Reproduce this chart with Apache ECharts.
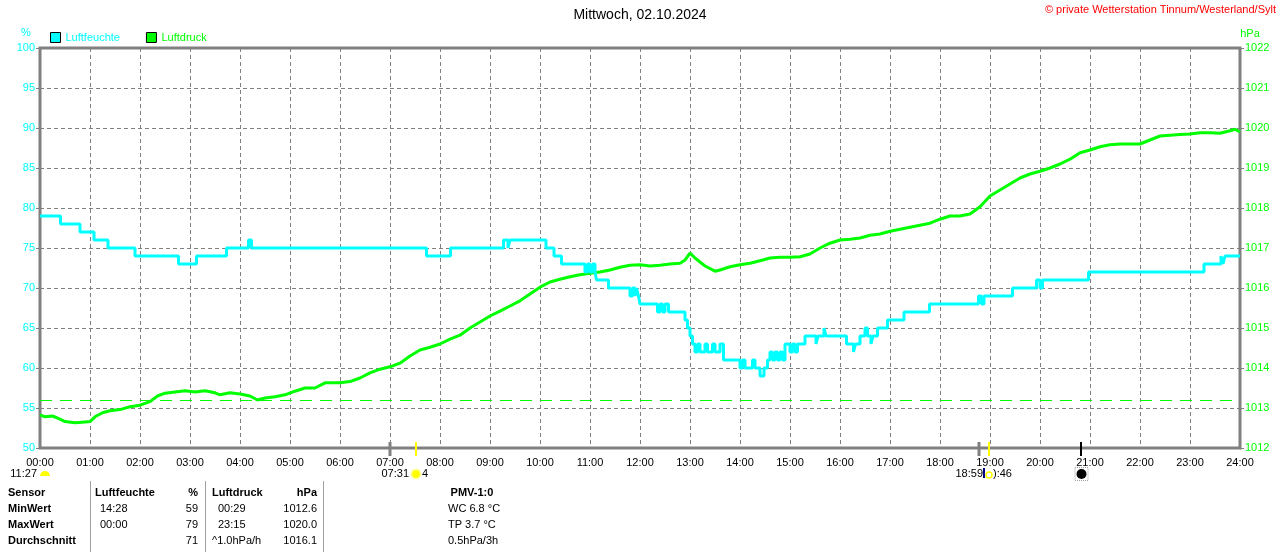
<!DOCTYPE html>
<html lang="de">
<head>
<meta charset="UTF-8">
<title>Luftfeuchte / Luftdruck</title>
<script src="https://cdn.jsdelivr.net/npm/echarts@6/dist/echarts.min.js"></script>
<style>
    html, body { margin: 0; padding: 0; background: #fff; }
    #main { width: 1280px; height: 552px; }
</style>
</head>
<body>
<div id="main"></div>
<script>
    // tick labels of the time axis
    var hourLabels = ['00:00', '01:00', '02:00', '03:00', '04:00', '05:00', '06:00', '07:00', '08:00',
        '09:00', '10:00', '11:00', '12:00', '13:00', '14:00', '15:00', '16:00', '17:00', '18:00',
        '19:00', '20:00', '21:00', '22:00', '23:00', '24:00'];

    // Luftfeuchte (%), value holds from this hour until the next entry
    var humHours = [0, 0.41, 0.8, 1.08, 1.36, 1.9, 2.77, 3.13, 3.73, 4.17, 4.23, 7.73, 8.21, 9.27, 9.36, 9.4,
        10.12, 10.28, 10.43, 10.9, 10.95, 11.0, 11.05, 11.1, 11.13, 11.37, 11.8, 11.85, 11.9, 11.93, 11.97,
        12.0, 12.35, 12.4, 12.45, 12.5, 12.57, 12.9, 12.95, 13.0, 13.05, 13.1, 13.15, 13.2, 13.3, 13.35,
        13.45, 13.5, 13.6, 13.67, 14.0, 14.05, 14.1, 14.25, 14.3, 14.4, 14.48, 14.55, 14.6, 14.65, 14.7,
        14.75, 14.8, 14.85, 14.9, 15.0, 15.05, 15.1, 15.15, 15.3, 15.52, 15.56, 15.68, 15.72, 16.13, 16.27,
        16.31, 16.4, 16.5, 16.55, 16.62, 16.66, 16.75, 16.95, 17.28, 17.79, 18.77, 18.83, 18.88, 19.45,
        19.93, 20.0, 20.05, 20.97, 23.28, 23.62, 23.66, 23.7, 24];
    var humValues = [79, 78, 77, 76, 75, 74, 73, 74, 75, 76, 75, 74, 75, 76, 75, 76,
        75, 74, 73, 72, 73, 72, 73, 72, 71, 70, 69, 70, 69, 70, 69,
        68, 67, 68, 67, 68, 67, 66, 65, 64, 63, 62, 63, 62, 63, 62,
        63, 62, 63, 61, 60, 61, 60, 61, 60, 59, 60, 61, 62, 61, 62,
        61, 62, 61, 63, 62, 63, 62, 63, 64, 63, 64, 65, 64, 63, 62,
        63, 64, 65, 64, 63, 64, 65, 66, 67, 68, 69, 68, 69, 70,
        71, 70, 71, 72, 73, 74, 73, 74, 74];

    // Luftdruck (hPa)
    var pressHours = [0, 0.1, 0.25, 0.4, 0.5, 0.7, 0.9, 1.0, 1.1, 1.25, 1.4, 1.6, 1.8, 2.0, 2.2, 2.35, 2.5,
        2.7, 2.9, 3.1, 3.3, 3.5, 3.6, 3.8, 4.0, 4.2, 4.35, 4.5, 4.7, 4.9, 5.1, 5.3, 5.5, 5.7, 6.0, 6.2,
        6.4, 6.6, 6.8, 7.0, 7.2, 7.4, 7.6, 7.8, 8.0, 8.2, 8.4, 8.6, 8.8, 9.0, 9.2, 9.4, 9.6, 9.8, 10.0,
        10.2, 10.4, 10.6, 10.8, 11.0, 11.2, 11.4, 11.6, 11.8, 12.0, 12.2, 12.4, 12.6, 12.8, 12.9, 13.0,
        13.1, 13.3, 13.5, 13.6, 13.8, 14.0, 14.2, 14.4, 14.6, 14.8, 15.0, 15.2, 15.4, 15.6, 15.8, 16.0,
        16.2, 16.4, 16.6, 16.8, 17.0, 17.2, 17.4, 17.6, 17.8, 18.0, 18.2, 18.4, 18.6, 18.8, 19.0, 19.2,
        19.4, 19.6, 19.8, 20.0, 20.2, 20.4, 20.6, 20.8, 21.0, 21.2, 21.4, 21.6, 21.8, 22.0, 22.2, 22.4,
        22.6, 22.8, 23.0, 23.2, 23.4, 23.6, 23.8, 23.9, 24.0];
    var pressValues = [1012.83, 1012.78, 1012.8, 1012.72, 1012.66, 1012.63, 1012.65, 1012.66, 1012.78,
        1012.88, 1012.93, 1012.96, 1013.03, 1013.07, 1013.16, 1013.3, 1013.37, 1013.4, 1013.43, 1013.4,
        1013.43, 1013.38, 1013.33, 1013.38, 1013.35, 1013.3, 1013.2, 1013.25, 1013.28, 1013.33, 1013.42,
        1013.5, 1013.5, 1013.63, 1013.63, 1013.66, 1013.75, 1013.88, 1013.97, 1014.03, 1014.12, 1014.3,
        1014.45, 1014.52, 1014.6, 1014.72, 1014.82, 1015.0, 1015.15, 1015.3, 1015.42, 1015.55, 1015.68,
        1015.85, 1016.02, 1016.15, 1016.22, 1016.28, 1016.33, 1016.37, 1016.4, 1016.45, 1016.52, 1016.57,
        1016.58, 1016.55, 1016.57, 1016.6, 1016.62, 1016.7, 1016.87, 1016.75, 1016.55, 1016.42, 1016.45,
        1016.53, 1016.58, 1016.62, 1016.68, 1016.75, 1016.77, 1016.77, 1016.78, 1016.85, 1017.0, 1017.12,
        1017.2, 1017.22, 1017.25, 1017.32, 1017.35, 1017.42, 1017.47, 1017.52, 1017.57, 1017.62, 1017.72,
        1017.8, 1017.8, 1017.85, 1018.03, 1018.3, 1018.45, 1018.6, 1018.75, 1018.85, 1018.92, 1019.0,
        1019.1, 1019.22, 1019.38, 1019.45, 1019.53, 1019.58, 1019.6, 1019.6, 1019.6, 1019.7, 1019.8,
        1019.82, 1019.84, 1019.85, 1019.88, 1019.88, 1019.87, 1019.93, 1019.97, 1019.9];

    var normPressure = 1013.2;

    // sun / moon markers below the time axis (hours)
    var eventHours = [7.0, 7.52, 18.77, 18.98, 20.83];
    var eventColors = ['#808080', '#ffff00', '#808080', '#ffff00', '#000000'];

    // statistics table
    var rowLabels = ['Sensor', 'MinWert', 'MaxWert', 'Durchschnitt'];
    var humTimes = ['', '14:28', '00:00', ''];
    var humStats = ['%', '59', '79', '71'];
    var pressTimes = ['', '00:29', '23:15', '^1.0hPa/h'];
    var pressStats = ['hPa', '1012.6', '1020.0', '1016.1'];
    var pmvTexts = ['PMV-1:0', 'WC 6.8 °C', 'TP 3.7 °C', '0.5hPa/3h'];

    function pairs(xs, ys) {
        return xs.map(function (x, i) { return [x, ys[i]]; });
    }

    var font = 'Liberation Sans, Arial, sans-serif';
    var myChart = echarts.init(document.getElementById('main'));

    var option = {
        animation: false,
        textStyle: { fontFamily: font },
        grid: {
            left: 40, right: 40, top: 48, bottom: 104,
            show: true, borderColor: '#808080', borderWidth: 3, backgroundColor: 'transparent'
        },
        legend: {
            left: 50, top: 32, padding: 0,
            itemWidth: 10, itemHeight: 10, itemGap: 26,
            icon: 'rect',
            itemStyle: { borderColor: '#000', borderWidth: 1 },
            textStyle: { fontSize: 11, fontFamily: font },
            data: [
                { name: 'Luftfeuchte', textStyle: { color: '#00ffff' } },
                { name: 'Luftdruck', textStyle: { color: '#00ff00' } }
            ]
        },
        xAxis: {
            type: 'value', min: 0, max: 24, interval: 1,
            axisLine: { show: false },
            axisTick: { show: false },
            axisLabel: {
                color: '#000', fontSize: 11, margin: 9,
                formatter: function (v) { return hourLabels[v]; }
            },
            splitLine: { show: true, lineStyle: { color: '#808080', type: [4, 3], width: 1 } }
        },
        yAxis: [
            {
                type: 'value', min: 50, max: 100, interval: 5, position: 'left',
                axisLine: { show: false },
                axisTick: { show: true, length: 4, lineStyle: { color: '#808080' } },
                axisLabel: { color: '#00ffff', fontSize: 11, margin: 5 },
                splitLine: { show: true, lineStyle: { color: '#808080', type: [4, 3], width: 1 } }
            },
            {
                type: 'value', min: 1012, max: 1022, interval: 1, position: 'right',
                axisLine: { show: false },
                axisTick: { show: true, length: 4, lineStyle: { color: '#808080' } },
                axisLabel: {
                    color: '#00ff00', fontSize: 11, margin: 5,
                    formatter: function (v) { return String(v); }
                },
                splitLine: { show: false }
            }
        ],
        series: [
            {
                name: 'Luftdruck', type: 'line', yAxisIndex: 1,
                showSymbol: false, symbol: 'none',
                itemStyle: { color: '#00ff00' },
                lineStyle: { color: '#00ff00', width: 3 },
                data: pairs(pressHours, pressValues),
                markLine: {
                    silent: true, symbol: 'none',
                    label: { show: false },
                    lineStyle: { color: '#00ff00', type: [12, 8], width: 1 },
                    data: [{ yAxis: normPressure }]
                }
            },
            {
                name: 'Luftfeuchte', type: 'line', yAxisIndex: 0, step: 'end',
                showSymbol: false, symbol: 'none',
                itemStyle: { color: '#00ffff' },
                lineStyle: { color: '#00ffff', width: 3 },
                data: pairs(humHours, humValues)
            }
        ]
    };
    myChart.setOption(option);

    // texts, table and the sun/moon markers
    var g = [];
    g.push({ type: 'text', left: 'center', top: 8,
        style: { text: 'Mittwoch, 02.10.2024', fontSize: 14, fontFamily: font, fill: '#000' } });
    g.push({ type: 'text', right: 4, top: 4,
        style: { text: '© private Wetterstation Tinnum/Westerland/Sylt', fontSize: 11, fontFamily: font, fill: '#ff0000' } });
    g.push({ type: 'text', x: 26, y: 27,
        style: { text: '%', fontSize: 11, fontFamily: font, fill: '#00ffff', align: 'center' } });
    g.push({ type: 'text', x: 1250, y: 28,
        style: { text: 'hPa', fontSize: 11, fontFamily: font, fill: '#00ff00', align: 'center' } });

    var baseY = myChart.convertToPixel({ yAxisIndex: 0 }, 50);
    function px(h) { return myChart.convertToPixel({ xAxisIndex: 0 }, h); }

    eventHours.forEach(function (h, i) {
        var x = Math.round(px(h));
        g.push({ type: 'line', z: 10, shape: { x1: x, y1: baseY - 6, x2: x, y2: baseY + 8 },
            style: { stroke: eventColors[i], lineWidth: eventColors[i] === '#808080' ? 3 : 2 } });
    });

    function txt(t, x, y, align, bold, color) {
        return { type: 'text', x: x, y: y, z: 10,
            style: { text: t, fontSize: 11, fontFamily: font, fontWeight: bold ? 'bold' : 'normal',
                fill: color || '#000', align: align, verticalAlign: 'middle' } };
    }
    var ly = 474;
    g.push(txt('11:27', 37, ly, 'right'));
    g.push({ type: 'sector', z: 10, shape: { cx: px(0) + 5, cy: ly + 2, r: 5, startAngle: Math.PI, endAngle: 2 * Math.PI },
        style: { fill: '#ffff00' } });

    var sunrise = px(eventHours[1]);
    g.push(txt('07:31', sunrise - 7, ly, 'right'));
    g.push({ type: 'circle', z: 10, shape: { cx: sunrise, cy: ly, r: 5 }, style: { fill: '#ffff60', stroke: '#ffffa0', lineWidth: 1 } });
    g.push({ type: 'circle', z: 11, shape: { cx: sunrise, cy: ly, r: 3.5 }, style: { fill: '#ffff00' } });
    g.push(txt('4', sunrise + 6, ly, 'left'));

    var sunset = px(eventHours[3]);
    g.push(txt('18:59', sunset - 6, ly, 'right'));
    g.push({ type: 'line', z: 10, shape: { x1: sunset - 5, y1: ly - 6, x2: sunset - 5, y2: ly + 4 },
        style: { stroke: '#000080', lineWidth: 2 } });
    g.push({ type: 'circle', z: 10, shape: { cx: sunset, cy: ly + 1, r: 3 }, style: { fill: '#fff', stroke: '#ffff00', lineWidth: 1.5 } });
    g.push(txt('):46', sunset + 4, ly, 'left'));

    var moon = px(eventHours[4]);
    g.push({ type: 'rect', z: 10, shape: { x: moon - 6.5, y: ly - 6.5, width: 13, height: 13 },
        style: { fill: 'none', stroke: '#a0a0a0', lineWidth: 1, lineDash: [1, 1] } });
    g.push({ type: 'circle', z: 11, shape: { cx: moon, cy: ly, r: 5 }, style: { fill: '#000' } });

    // table
    [90, 205, 323].forEach(function (x) {
        g.push({ type: 'line', shape: { x1: x + 0.5, y1: 481, x2: x + 0.5, y2: 552 },
            style: { stroke: '#a0a0a0', lineWidth: 1 } });
    });
    var rowY = [493, 509, 525, 541];
    rowY.forEach(function (y, r) {
        var head = r === 0;
        g.push(txt(rowLabels[r], 8, y, 'left', true));
        if (head) {
            g.push(txt('Luftfeuchte', 95, y, 'left', true));
            g.push(txt('Luftdruck', 212, y, 'left', true));
            g.push(txt(pmvTexts[r], 472, y, 'center', true));
        } else {
            g.push(txt(humTimes[r], 100, y, 'left'));
            g.push(txt(pressTimes[r], pressTimes[r].charAt(0) === '^' ? 212 : 218, y, 'left'));
            g.push(txt(pmvTexts[r], 448, y, 'left'));
        }
        g.push(txt(humStats[r], 198, y, 'right', head));
        g.push(txt(pressStats[r], 317, y, 'right', head));
    });

    myChart.setOption({ graphic: g });
</script>
</body>
</html>
